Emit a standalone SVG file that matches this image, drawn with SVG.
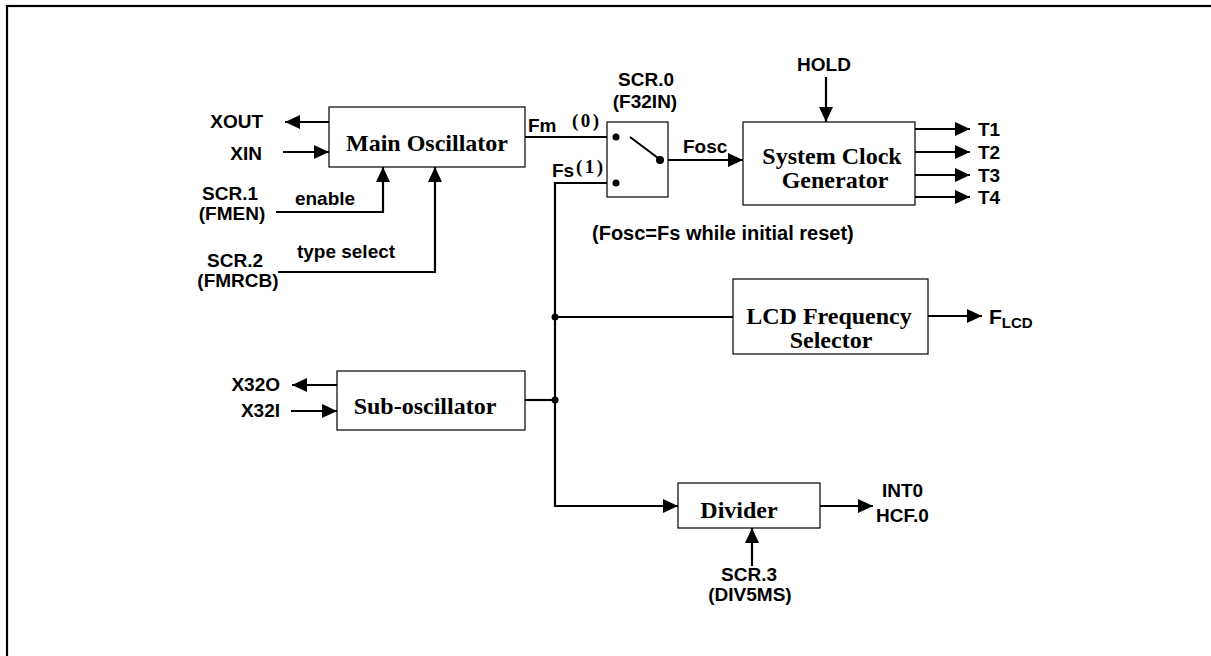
<svg xmlns="http://www.w3.org/2000/svg" width="1211" height="656" viewBox="0 0 1211 656">
<style>
.lbl{font-family:"Liberation Sans",Arial,sans-serif;font-weight:bold;font-size:19px;fill:#000}
.bt{font-family:"Liberation Serif","Times New Roman",serif;font-weight:bold;font-size:24px;fill:#000}
.par{font-family:"Liberation Serif","Times New Roman",serif;font-weight:bold;font-size:19px;letter-spacing:2.5px;fill:#000}
.box{fill:#fff;stroke:#000;stroke-width:1.2}
.w{fill:none;stroke:#000;stroke-width:2.2}
.a{fill:none;stroke:#000;stroke-width:2.2;marker-end:url(#ah)}
</style>
<defs>
<marker id="ah" markerUnits="userSpaceOnUse" markerWidth="16" markerHeight="14" refX="15" refY="7" orient="auto"><path d="M0,0 L15,7 L0,14 z" fill="#000"/></marker>
</defs>
<rect x="0" y="0" width="1211" height="656" fill="#fff"/>
<rect x="7" y="6" width="1230" height="680" fill="none" stroke="#000" stroke-width="2.2"/>

<g id="connectors">
<line class="a" x1="329" y1="122" x2="285" y2="122"/>
<line class="a" x1="283" y1="152" x2="329" y2="152"/>
<polyline class="a" points="276,212 383,212 383,167"/>
<polyline class="a" points="278,272 435,272 435,167"/>
<line class="w" x1="525" y1="137" x2="616" y2="137"/>
<polyline class="w" points="616,183 555,183 555,506 565,506"/>
<line class="a" x1="565" y1="506" x2="678" y2="506"/>
<line class="a" x1="660" y1="160" x2="743" y2="160"/>
<line class="a" x1="826" y1="77" x2="826" y2="122"/>
<line class="a" x1="915" y1="129" x2="970" y2="129"/>
<line class="a" x1="915" y1="152" x2="970" y2="152"/>
<line class="a" x1="915" y1="175" x2="970" y2="175"/>
<line class="a" x1="915" y1="197" x2="970" y2="197"/>
<line class="w" x1="555" y1="317" x2="733" y2="317"/>
<line class="a" x1="928" y1="316" x2="982" y2="316"/>
<line class="a" x1="337" y1="385" x2="292" y2="385"/>
<line class="a" x1="291" y1="411" x2="337" y2="411"/>
<line class="w" x1="525" y1="400" x2="555" y2="400"/>
<line class="a" x1="820" y1="506" x2="873" y2="506"/>
<line class="a" x1="752" y1="566" x2="752" y2="528"/>
<circle cx="555" cy="317" r="3.5" fill="#000"/>
<circle cx="555" cy="400" r="3.5" fill="#000"/>
</g>

<g id="main-osc">
<rect class="box" x="329" y="107" width="196" height="60"/>
<text class="bt" x="427" y="151" text-anchor="middle">Main Oscillator</text>
</g>
<g id="switch">
<rect class="box" x="607" y="122" width="61" height="75"/>
<circle cx="616" cy="137" r="3.5" fill="#000"/>
<circle cx="616" cy="183" r="3.5" fill="#000"/>
<circle cx="660" cy="160" r="4" fill="#000"/>
<line x1="630" y1="137" x2="658" y2="158" stroke="#000" stroke-width="2"/>
</g>
<g id="sys-clock">
<rect class="box" x="743" y="122" width="172" height="83"/>
<text class="bt" x="832" y="164" text-anchor="middle">System Clock</text>
<text class="bt" x="835" y="188" text-anchor="middle">Generator</text>
</g>
<g id="lcd">
<rect class="box" x="733" y="279" width="195" height="75"/>
<text class="bt" x="829" y="324" text-anchor="middle">LCD Frequency</text>
<text class="bt" x="831" y="348" text-anchor="middle">Selector</text>
</g>
<g id="sub-osc">
<rect class="box" x="337" y="371" width="188" height="59"/>
<text class="bt" x="425" y="414" text-anchor="middle">Sub-oscillator</text>
</g>
<g id="divider">
<rect class="box" x="678" y="483" width="142" height="45"/>
<text class="bt" x="739" y="518" text-anchor="middle">Divider</text>
</g>

<g id="labels">
<text class="lbl" x="263" y="128" text-anchor="end">XOUT</text>
<text class="lbl" x="262" y="160" text-anchor="end">XIN</text>
<text class="lbl" x="230" y="200" text-anchor="middle">SCR.1</text>
<text class="lbl" x="232" y="220" text-anchor="middle">(FMEN)</text>
<text class="lbl" x="325" y="205" text-anchor="middle">enable</text>
<text class="lbl" x="235" y="267" text-anchor="middle">SCR.2</text>
<text class="lbl" x="238" y="287" text-anchor="middle">(FMRCB)</text>
<text class="lbl" x="346" y="258" text-anchor="middle">type select</text>
<text class="lbl" x="528" y="132">Fm</text>
<text class="par" x="572" y="127">(0)</text>
<text class="lbl" x="552" y="177">Fs</text>
<text class="par" x="576" y="173">(1)</text>
<text class="lbl" x="646" y="86" text-anchor="middle">SCR.0</text>
<text class="lbl" x="645" y="108" text-anchor="middle">(F32IN)</text>
<text class="lbl" x="683" y="153">Fosc</text>
<text class="lbl" x="824" y="71" text-anchor="middle">HOLD</text>
<text class="lbl" x="978" y="136">T1</text>
<text class="lbl" x="978" y="159">T2</text>
<text class="lbl" x="978" y="182">T3</text>
<text class="lbl" x="978" y="204">T4</text>
<text class="lbl" x="592" y="240" style="font-size:20px">(Fosc=Fs while initial reset)</text>
<text class="lbl" x="989" y="324" style="font-size:21px">F<tspan style="font-size:15px" dy="4">LCD</tspan></text>
<text class="lbl" x="280" y="391" text-anchor="end">X32O</text>
<text class="lbl" x="280" y="417" text-anchor="end">X32I</text>
<text class="lbl" x="882" y="497">INT0</text>
<text class="lbl" x="876" y="522">HCF.0</text>
<text class="lbl" x="749" y="581" text-anchor="middle">SCR.3</text>
<text class="lbl" x="750" y="601" text-anchor="middle">(DIV5MS)</text>
</g>
</svg>
